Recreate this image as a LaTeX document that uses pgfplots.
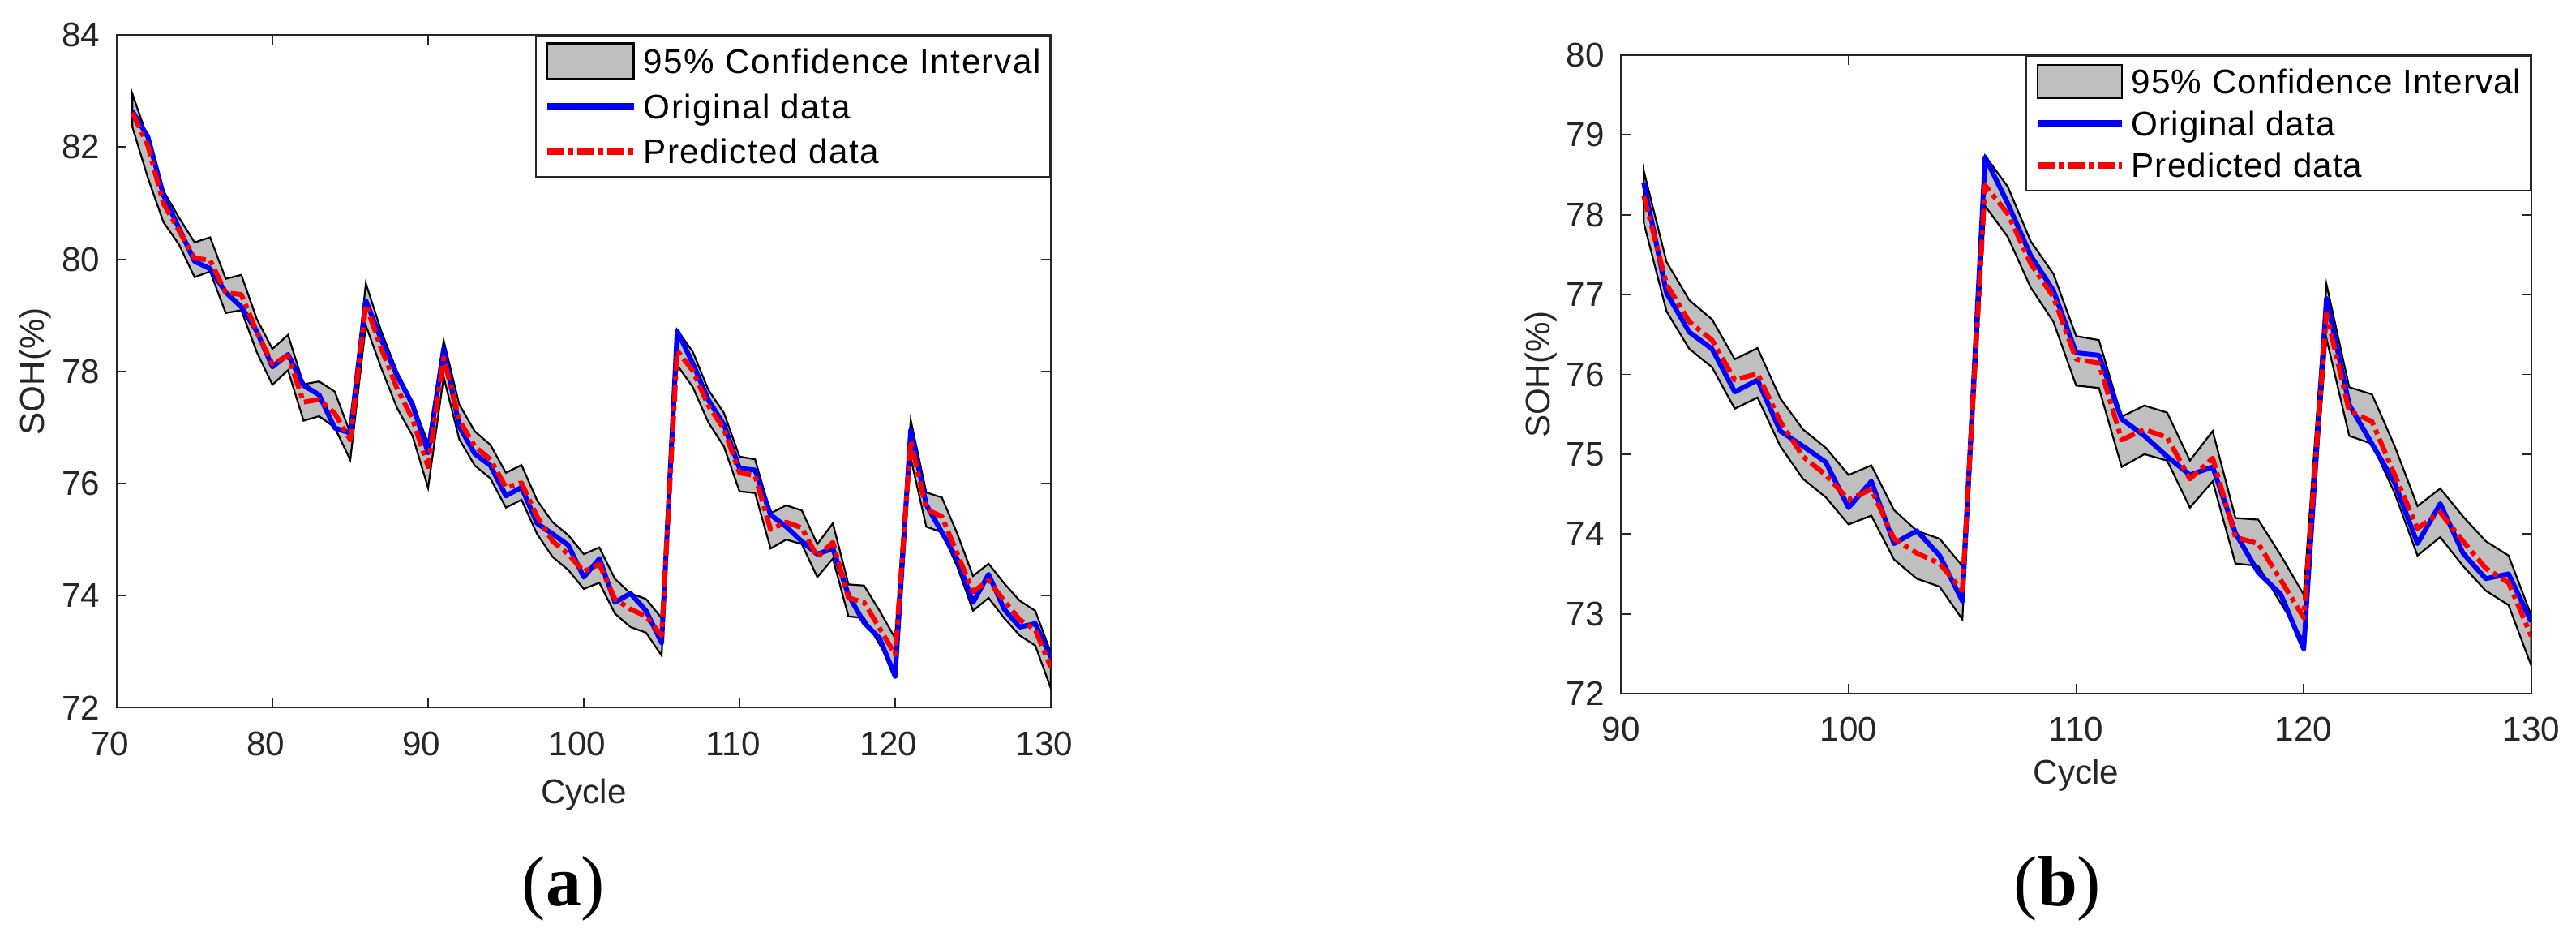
\documentclass[border=0pt]{standalone}
\usepackage{fontspec}
\setmainfont{Liberation Sans}
\newfontfamily\serifb{Liberation Serif}
\newfontfamily\legAfont[LetterSpace=3.6]{Liberation Sans}
\newfontfamily\legBfont[LetterSpace=2.5]{Liberation Sans}
\usepackage{pgfplots}
\usepackage{pgfplotstable}
\usepgfplotslibrary{fillbetween}
\pgfplotsset{compat=1.18}

\definecolor{axgray}{RGB}{38,38,38}
\definecolor{bandgray}{RGB}{191,191,191}

\pgfplotstableread{
c up lo orig pred
71 82.95 82.36 82.64 82.61
72 82.15 81.45 82.18 82.02
73 81.22 80.66 81.14 80.99
74 80.74 80.26 80.55 80.51
75 80.30 79.68 79.96 80.02
76 80.39 79.78 79.83 79.98
77 79.65 79.04 79.41 79.40
78 79.72 79.09 79.15 79.37
79 78.93 78.34 78.71 78.70
80 78.40 77.76 78.08 78.13
81 78.65 78.02 78.30 78.28
82 77.77 77.12 77.75 77.45
83 77.82 77.20 77.58 77.50
84 77.64 77.00 76.99 77.25
85 76.90 76.42 76.90 76.78
86 79.57 78.82 79.26 79.19
87 78.71 78.05 78.56 78.40
88 78.00 77.35 77.93 77.70
89 77.45 76.85 77.41 77.15
90 76.72 75.92 76.55 76.30
91 78.55 77.90 78.40 78.24
92 77.41 76.79 77.02 77.13
93 76.93 76.32 76.53 76.66
94 76.69 76.09 76.32 76.43
95 76.19 75.57 75.78 75.93
96 76.33 75.71 75.93 76.01
97 75.70 75.10 75.29 75.41
98 75.31 74.69 75.10 74.97
99 75.08 74.46 74.90 74.74
100 74.74 74.12 74.33 74.43
101 74.86 74.23 74.66 74.56
102 74.30 73.68 73.88 73.94
103 74.04 73.44 74.04 73.76
104 73.94 73.34 73.73 73.63
105 73.60 72.93 73.16 73.29
106 78.74 78.11 78.72 78.37
107 78.35 77.72 78.14 78.01
108 77.67 77.09 77.49 77.39
109 77.26 76.66 77.05 76.97
110 76.48 75.86 76.27 76.19
111 76.43 75.83 76.24 76.14
112 75.47 74.84 75.44 75.18
113 75.61 75.00 75.23 75.31
114 75.52 74.92 74.97 75.21
115 74.92 74.33 74.74 74.69
116 75.29 74.66 74.84 74.95
117 74.20 73.63 74.01 73.96
118 74.18 73.60 73.52 73.88
119 73.73 73.13 73.24 73.42
120 73.24 72.66 72.56 72.95
121 77.13 76.45 76.95 76.76
122 75.84 75.23 75.62 75.54
123 75.75 75.13 75.13 75.41
124 75.10 74.51 74.64 74.74
125 74.35 73.73 73.88 74.07
126 74.57 73.96 74.38 74.27
127 74.22 73.60 73.76 73.91
128 73.91 73.29 73.44 73.57
129 73.73 73.11 73.50 73.39
130 72.98 72.35 72.90 72.72
}\dataA

\pgfplotstableread{
c up lo orig pred
91 78.55 77.90 78.40 78.24
92 77.41 76.79 77.02 77.13
93 76.93 76.32 76.53 76.66
94 76.69 76.09 76.32 76.43
95 76.19 75.57 75.78 75.93
96 76.33 75.71 75.93 76.01
97 75.70 75.10 75.29 75.41
98 75.31 74.69 75.10 74.97
99 75.08 74.46 74.90 74.74
100 74.74 74.12 74.33 74.43
101 74.86 74.23 74.66 74.56
102 74.30 73.68 73.88 73.94
103 74.04 73.44 74.04 73.76
104 73.94 73.34 73.73 73.63
105 73.60 72.93 73.16 73.29
106 78.74 78.11 78.72 78.37
107 78.35 77.72 78.14 78.01
108 77.67 77.09 77.49 77.39
109 77.26 76.66 77.05 76.97
110 76.48 75.86 76.27 76.19
111 76.43 75.83 76.24 76.14
112 75.47 74.84 75.44 75.18
113 75.61 75.00 75.23 75.31
114 75.52 74.92 74.97 75.21
115 74.92 74.33 74.74 74.69
116 75.29 74.66 74.84 74.95
117 74.20 73.63 74.01 73.96
118 74.18 73.60 73.52 73.88
119 73.73 73.13 73.24 73.42
120 73.24 72.66 72.56 72.95
121 77.13 76.45 76.95 76.76
122 75.84 75.23 75.62 75.54
123 75.75 75.13 75.13 75.41
124 75.10 74.51 74.64 74.74
125 74.35 73.73 73.88 74.07
126 74.57 73.96 74.38 74.27
127 74.22 73.60 73.76 73.91
128 73.91 73.29 73.44 73.57
129 73.73 73.11 73.50 73.39
130 72.98 72.35 72.90 72.72
}\dataB

\pgfplotsset{
  sohax/.style={
    scale only axis, anchor=south west,
    axis line style={axgray, line width=0.18mm},
    every tick/.style={axgray, line width=0.18mm},
    tick align=inside, major tick length=1.2mm,
    /pgf/number format/assume math mode=true,
    ticklabel style={font=\fontsize{12}{14}\selectfont, text=axgray},
    yticklabel style={anchor=east, inner sep=0pt, xshift=-2mm},
    xticklabel style={anchor=north, inner sep=0pt},
    label style={font=\fontsize{12}{14}\selectfont, text=axgray},
    xlabel={Cycle}, ylabel={SOH(\%)},
    xlabel style={at={(axis description cs:0.5,0)}, anchor=base},
    ylabel style={at={(axis description cs:-0.078,0.5)}, anchor=base},
    legend cell align=left,
  },
  bandstyle/.style={fill=bandgray, draw=black, line width=0.22mm,
    legend image code/.code={\draw[fill=bandgray, draw=black, line width=0.25mm] (0mm,-\LH) rectangle (\LW,\LH);}},
  origstyle/.style={color=blue, line width=0.6mm, line join=round,
    legend image code/.code={\draw[blue, line width=0.8mm] (0mm,0mm) -- (\LW,0mm);}},
  predstyle/.style={color=red, line width=0.6mm, line join=round,
    dash pattern=on 2mm off 0.6mm on 0.6mm off 0.6mm,
    legend image code/.code={\draw[red, line width=0.8mm, dash pattern=on 2.1mm off 0.5mm on 0.6mm off 0.5mm] (0mm,0mm) -- (\LW,0mm);}},
}

\begin{document}
\begin{tikzpicture}
\path (0,0) rectangle (317.7mm,115.5mm);

\def\LW{10.7mm}\def\LH{2.2mm}
\begin{axis}[sohax, at={(14.4mm,28.25mm)}, width=115.2mm, height=82.95mm,
  xmin=70, xmax=130, ymin=72, ymax=84,
  xtick={70,80,...,130}, ytick={72,74,...,84},
  xticklabel style={xshift=-0.8mm, yshift=-2.9mm},
  xlabel style={yshift=-11.8mm},
  legend style={at={(1,1)}, anchor=north east, draw=axgray, line width=0.18mm, fill=white,
    inner xsep=0.95mm, inner ysep=0.825mm, row sep=0.925mm, column sep=0.6mm,
    font=\legAfont\fontsize{12}{14}\selectfont,
    nodes={inner xsep=0.2mm, inner ysep=0.825mm, text height=3.0mm, text depth=0mm},
    cells={anchor=west}},
]
\addplot[draw=none, forget plot, name path=UA] table[x=c, y=up] {\dataA};
\addplot[draw=none, forget plot, name path=LA] table[x=c, y=lo] {\dataA};
\addplot[bandstyle] fill between[of=UA and LA];
\addplot[origstyle] table[x=c, y=orig] {\dataA};
\addplot[predstyle] table[x=c, y=pred] {\dataA};
\legend{95\% Confidence Interval, Original data, Predicted data}
\end{axis}

\def\LW{10.4mm}\def\LH{2.05mm}
\begin{axis}[sohax, at={(199.92mm,30.0mm)}, width=112.26mm, height=78.7mm,
  xmin=90, xmax=130, ymin=72, ymax=80,
  xtick={90,100,...,130}, ytick={72,73,...,80},
  xticklabel style={yshift=-2.8mm},
  xlabel style={yshift=-11.2mm},
  legend style={at={(1,1)}, anchor=north east, draw=axgray, line width=0.18mm, fill=white,
    inner xsep=0.95mm, inner ysep=0.975mm, row sep=0.82mm, column sep=0.6mm,
    font=\legBfont\fontsize{12}{14}\selectfont,
    nodes={inner xsep=0.2mm, inner ysep=0.675mm, text height=3.0mm, text depth=0mm},
    cells={anchor=west}},
]
\addplot[draw=none, forget plot, name path=UB] table[x=c, y=up] {\dataB};
\addplot[draw=none, forget plot, name path=LB] table[x=c, y=lo] {\dataB};
\addplot[bandstyle] fill between[of=UB and LB];
\addplot[origstyle] table[x=c, y=orig] {\dataB};
\addplot[predstyle] table[x=c, y=pred] {\dataB};
\legend{95\% Confidence Interval, Original data, Predicted data}
\end{axis}

\node[anchor=base, font=\serifb\fontsize{25}{30}\selectfont] at (69.5mm,3.8mm) {(\textbf{a})};
\node[anchor=base, font=\serifb\fontsize{25}{30}\selectfont] at (253.75mm,3.8mm) {(\textbf{b})};
\end{tikzpicture}
\end{document}
